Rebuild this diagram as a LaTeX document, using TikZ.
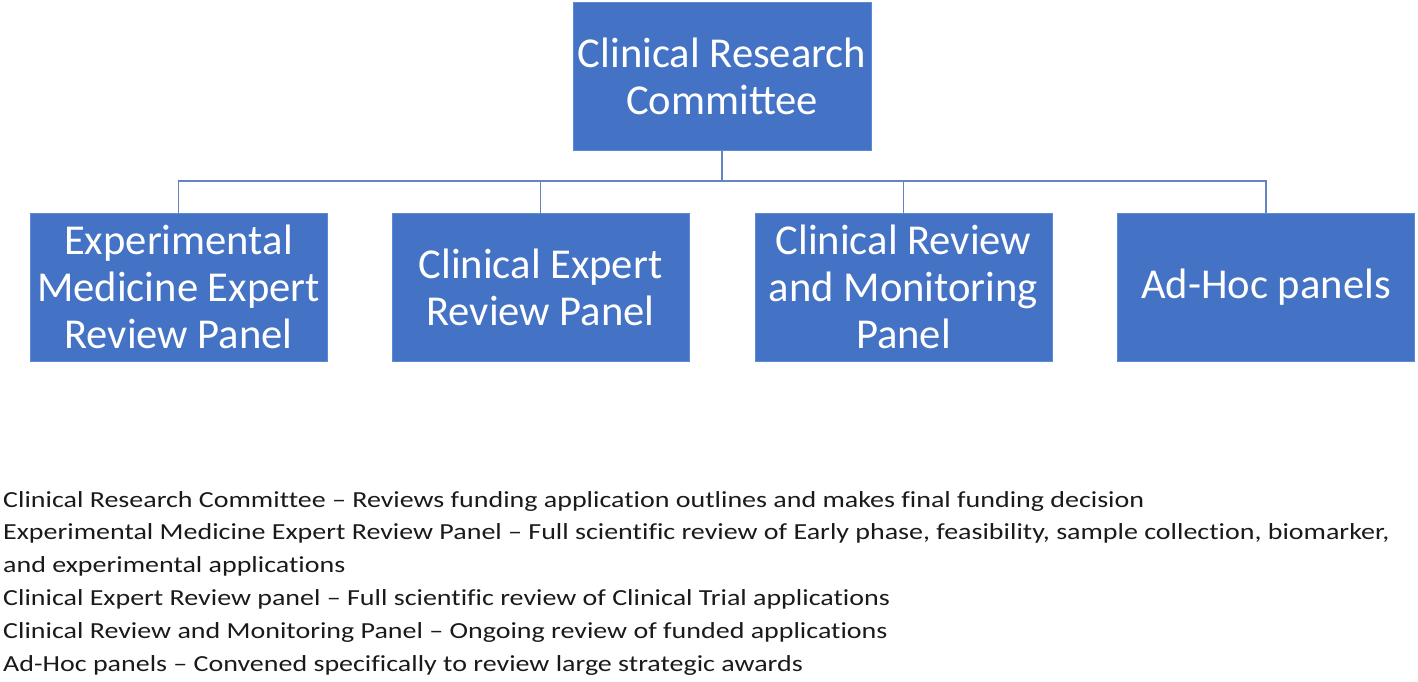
\documentclass[tikz,border=0pt]{standalone}
\usepackage{fontspec}
\setmainfont{Carlito}
\newfontfamily\legendfont[FakeStretch=1.217,Ligatures=NoCommon]{Carlito}
\definecolor{boxblue}{HTML}{4472C4}
\definecolor{boxedge}{HTML}{5B8BD6}
\definecolor{linkblue}{HTML}{6384BE}
\definecolor{txt}{HTML}{1A1A1A}
\begin{document}
\begin{tikzpicture}[x=1pt,y=-1pt,
  orgbox/.style={draw=boxedge,line width=0.8pt,fill=boxblue,text=white,
    minimum width=297pt,minimum height=148pt,inner sep=0pt,align=center,
    font=\fontsize{42.6}{47}\selectfont},
  link/.style={draw=linkblue,line width=1.6pt},
  legend/.style={anchor=base west,inner sep=0pt,text=txt,font=\legendfont\fontsize{23}{28}\selectfont}]
\useasboundingbox (0,0) rectangle (1418,682);
\node[orgbox,minimum width=298pt] (top) at (722,76) {Clinical Research\\Committee};
\node[orgbox] (b1) at (178.5,287) {Experimental\\Medicine Expert\\Review Panel};
\node[orgbox] (b2) at (540.5,287) {Clinical Expert\\Review Panel};
\node[orgbox] (b3) at (903.5,287) {Clinical Review\\and Monitoring\\Panel};
\node[orgbox] (b4) at (1266,287) {Ad-Hoc panels};
\coordinate (busy) at (0,181);
\draw[link] (top.south) -- (top.south |- busy);
\draw[link] (b1.north) -- (b1.north |- busy) -- (b4.north |- busy) -- (b4.north);
\draw[link] (b2.north) -- (b2.north |- busy);
\draw[link] (b3.north) -- (b3.north |- busy);
\node[legend] (l1) at (3,507) {Clinical Research Committee – Reviews funding application outlines and makes final funding decision};
\node[legend] (l2) at (3,539) {Experimental Medicine Expert Review Panel – Full scientific review of Early phase, feasibility, sample collection, biomarker,};
\node[legend] (l3) at (3,572) {and experimental applications};
\node[legend] (l4) at (3,605) {Clinical Expert Review panel – Full scientific review of Clinical Trial applications};
\node[legend] (l5) at (3,638) {Clinical Review and Monitoring Panel – Ongoing review of funded applications};
\node[legend] (l6) at (3,671) {Ad-Hoc panels – Convened specifically to review large strategic awards};
\end{tikzpicture}
\end{document}
